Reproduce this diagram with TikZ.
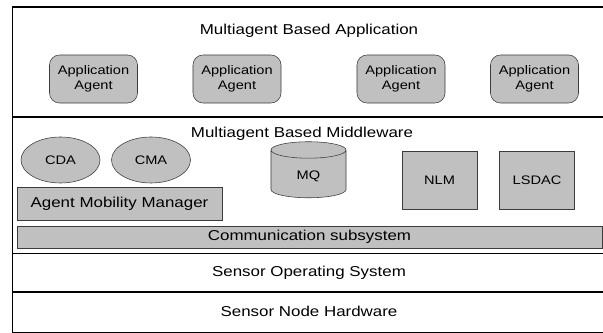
\documentclass[tikz,border=0pt]{standalone}
\usepackage{fontspec}
\setmainfont{Liberation Sans}[FakeStretch=1.18]
\usepackage{xcolor}
\usetikzlibrary{shapes.geometric}

\definecolor{boxgray}{RGB}{192,192,192}
\definecolor{edgegray}{RGB}{60,60,60}

\begin{document}
\begin{tikzpicture}[
  x=0.025cm, y=-0.025cm,
  title/.style={font=\fontsize{10.2}{12}\selectfont, anchor=base},
  agent/.style={rectangle, rounded corners=2.5mm, draw=edgegray, fill=boxgray, minimum width=2.2cm, minimum height=1.2cm, align=center, font=\fontsize{8.8}{10.6}\selectfont},
  comp/.style={ellipse, draw=edgegray, fill=boxgray, minimum width=1.975cm, minimum height=1.15cm, font=\fontsize{8.8}{10.6}\selectfont},
  module/.style={rectangle, draw=edgegray, fill=boxgray, minimum width=1.875cm, minimum height=1.45cm, font=\fontsize{8.8}{10.6}\selectfont},
  bar/.style={rectangle, draw=edgegray, fill=boxgray, font=\fontsize{10.2}{12}\selectfont},
]
  \useasboundingbox (0,0) rectangle (603,333);
  \clip (0,0) rectangle (603,333);
  \draw[line width=0.8pt] (12.5,7) rectangle (606,333);
  \draw[line width=0.8pt] (12.5,117) -- (606,117);
  \draw[line width=0.8pt] (12.5,253.5) -- (606,253.5);
  \draw[line width=0.8pt] (12.5,292) -- (606,292);

  \node[title] (apptitle) at (309,35) {Multiagent Based Application};
  \node[agent] (agent1) at (93.5,79) {Application\\Agent};
  \node[agent] (agent2) at (237,79) {Application\\Agent};
  \node[agent] (agent3) at (401,79) {Application\\Agent};
  \node[agent] (agent4) at (534.5,79) {Application\\Agent};

  \node[title] (midtitle) at (302,138) {Multiagent Based Middleware};
  \node[comp] (cda) at (60.5,160) {CDA};
  \node[comp] (cma) at (151,160) {CMA};
  \node[cylinder, shape border rotate=90, aspect=0.5, draw=edgegray, fill=boxgray, minimum width=1.875cm, minimum height=1.4cm, font=\fontsize{8.8}{10.6}\selectfont] (mq) at (308.5,176) {MQ};
  \node[module] (nlm) at (439.5,180) {NLM};
  \node[module] (lsdac) at (537,180) {LSDAC};
  \node[bar, minimum width=5.125cm, minimum height=0.825cm] (amm) at (119.5,203.5) {Agent Mobility Manager};
  \node[bar, minimum width=14.625cm, minimum height=0.55cm, inner sep=0pt] (comm) at (309.5,237) {Communication subsystem};

  \node[title] (sos) at (309,277) {Sensor Operating System};
  \node[title] (snh) at (309,316) {Sensor Node Hardware};
\end{tikzpicture}
\end{document}
